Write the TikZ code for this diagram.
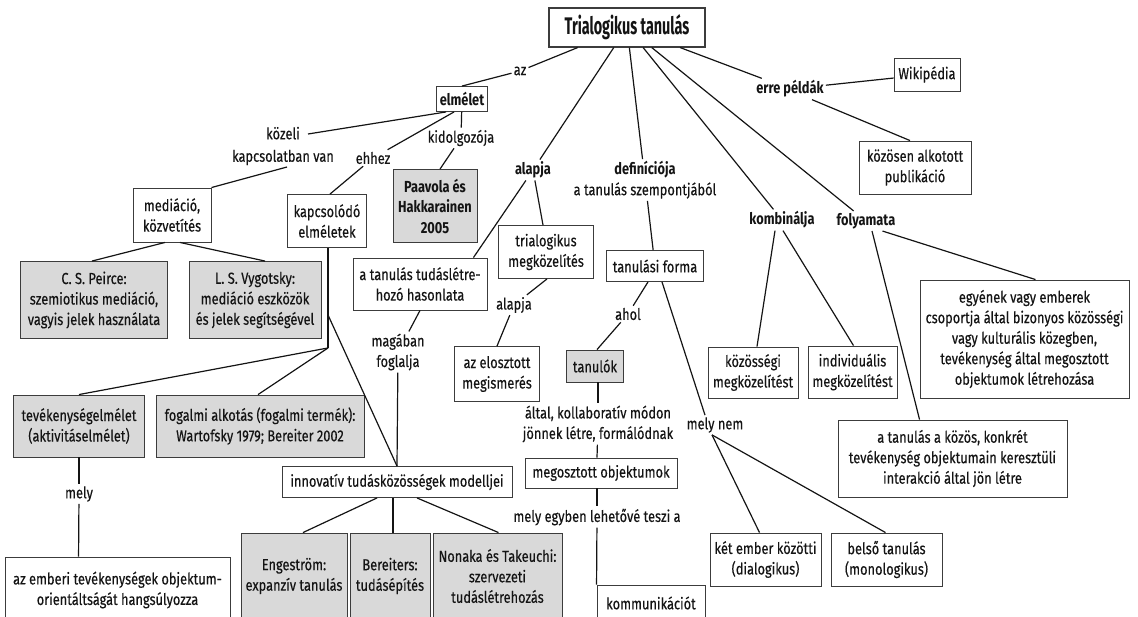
\documentclass[tikz,border=0pt]{standalone}
\usepackage{fontspec}
\setmainfont{Fira Sans}[FakeStretch=0.8, UprightFeatures={FakeBold=0.3}]
\newfontfamily\headfont{Fira Sans}[FakeStretch=0.6]
\usetikzlibrary{calc}
\definecolor{boxgray}{HTML}{D9D9D9}
\definecolor{ink}{HTML}{141414}
\definecolor{edge}{HTML}{3C3C3C}

\begin{document}
\begin{tikzpicture}[x=1pt,y=-1pt,
  txt/.style={font=\fontsize{16}{20.5}\selectfont, text=ink, align=center},
  bf/.style={font=\bfseries\fontsize{16}{20.5}\selectfont},
  box/.style={txt, draw=edge, line width=0.9pt, fill=white, inner sep=0pt},
  gbox/.style={box, fill=boxgray},
  lbl/.style={txt, inner sep=2pt},
  sz/.style 2 args={minimum width=#1, minimum height=#2},
  conn/.style={draw=ink, line width=1.2pt}]
\useasboundingbox (0,0) rectangle (1138,616);

% ---- root and the theory branch ----
\node[box, sz={156}{39}, line width=1.1pt, font=\headfont\bfseries\fontsize{24}{26}\selectfont] (title) at (627,27.5) {Trialogikus tanulás};
\node[lbl] (az) at (520,71) {az};
\node[box, sz={51}{25}, bf] (elmelet) at (462,99) {elmélet};
\node[lbl] (kozeli) at (283,146) {közeli\\[2pt]kapcsolatban van};
\node[lbl] (ehhez) at (373,158) {ehhez};
\node[lbl] (kidolg) at (461,138) {kidolgozója};
\node[gbox, sz={84}{73}, bf] (paavola) at (435,206) {Paavola és\\Hakkarainen\\2005};
\node[box, sz={79}{53}] (kapcs) at (327,221) {kapcsolódó\\elméletek};
\node[box, sz={78}{54}] (media) at (172,215) {mediáció,\\közvetítés};
\node[gbox, sz={147}{77}] (peirce) at (94,300) {C. S. Peirce:\\szemiotikus mediáció,\\vagyis jelek használata};
\node[gbox, sz={132}{77}] (vygot) at (255,300) {L. S. Vygotsky:\\mediáció eszközök\\és jelek segítségével};
\node[gbox, sz={131}{62}] (tevek) at (79,426) {tevékenységelmélet\\(aktivitáselmélet)};
\node[gbox, sz={208}{62}] (fogalmi) at (260,426) {fogalmi alkotás (fogalmi termék):\\Wartofsky 1979; Bereiter 2002};
\node[lbl] (mely1) at (79,494) {mely};
\node[box, sz={225}{66}] (emberi) at (117.5,590) {az emberi tevékenységek objektum-\\orientáltságát hangsúlyozza};

% ---- basis branch ----
\node[lbl, bf] (alapja1) at (533,170) {alapja};
\node[box, sz={134}{52}] (hasonlat) at (420,284) {a tanulás tudáslétre-\\hozó hasonlata};
\node[lbl] (magaban) at (398,352) {magában\\foglalja};
\node[box, sz={230}{31}] (innov) at (397,482) {innovatív tudásközösségek modelljei};
\node[gbox, sz={106}{86}] (engest) at (294,576) {Engeström:\\expanzív tanulás};
\node[gbox, sz={80}{86}] (bereit) at (390,576) {Bereiters:\\tudásépítés};
\node[gbox, sz={129}{86}] (nonaka) at (497.5,576) {Nonaka és Takeuchi:\\szervezeti\\tudáslétrehozás};
\node[box, sz={95}{53}] (trial) at (546,252) {trialogikus\\megközelítés};
\node[lbl] (alapja2) at (514,305) {alapja};
\node[box, sz={85}{55}] (eloszt) at (497,374) {az elosztott\\megismerés};

% ---- definition branch ----
\node[lbl] (defin) at (645,180) {\textbf{definíciója}\\a tanulás szempontjából};
\node[box, sz={97}{31}] (forma) at (655,266) {tanulási forma};
\node[lbl] (ahol) at (628,314) {ahol};
\node[gbox, sz={57}{32}] (tanulok) at (595,366) {tanulók};
\node[lbl] (altal) at (598,424) {által, kollaboratív módon\\jönnek létre, formálódnak};
\node[box, sz={152}{30}] (megoszt) at (601,473) {megosztott objektumok};
\node[lbl] (melyegy) at (597,517) {mely egyben lehetővé teszi a};
\node[box, sz={108}{36}] (komm) at (651,603) {kommunikációt};
\node[lbl] (melynem) at (715,425) {mely nem};
\node[box, sz={111}{53}] (ketember) at (765.5,559.5) {két ember közötti\\(dialogikus)};
\node[box, sz={111}{53}] (belso) at (886.5,559.5) {belső tanulás\\(monologikus)};

% ---- right-hand branches ----
\node[lbl, bf] (kombin) at (782,220) {kombinálja};
\node[lbl, bf] (folyam) at (866,221) {folyamata};
\node[lbl, bf] (erre) at (790,89) {erre példák};
\node[box, sz={66}{33}] (wiki) at (927,74.5) {Wikipédia};
\node[box, sz={112}{53}] (kozosen) at (915,167.5) {közösen alkotott\\publikáció};
\node[box, sz={90}{51}] (kozossegi) at (753,372.5) {közösségi\\megközelítést};
\node[box, sz={89}{52}] (indiv) at (852.5,372) {individuális\\megközelítést};
\node[box, sz={209}{118}] (egyenek) at (1024.5,339) {egyének vagy emberek\\csoportja által bizonyos közösségi\\vagy kulturális közegben,\\tevékenység által megosztott\\objektumok létrehozása};
\node[box, sz={229}{77}] (kozos) at (952.5,458.5) {a tanulás a közös, konkrét\\tevékenység objektumain keresztüli\\interakció által jön létre};

% branch points on the line below "kapcsolódó elméletek"
\coordinate (kc) at ($(kapcs.south)+(1,67)$);
\coordinate (kb) at ($(kapcs.south)+(1,100)$);

% ---- connectors ----
\begin{scope}[every path/.style={conn}]
\draw (title) -- (az);
\draw (az) -- (elmelet.north);
\draw ($(elmelet.south west)+(10,0)$) -- ($(kozeli.center)+(25,-12)$);
\draw ($(elmelet.south)+(-8,0)$) -- (ehhez);
\draw (ehhez) -- ($(kapcs.north)+(3,0)$);
\draw (elmelet) -- (kidolg);
\draw (kidolg) -- ($(paavola.north)+(5,0)$);
\draw ($(kozeli.center)+(4,21)$) -- (media.north east);
\draw ($(media.south)+(-7,0)$) -- ($(peirce.north)+(-2,0)$);
\draw ($(media.south)+(8,0)$) -- ($(vygot.north)+(10,0)$);
\draw ($(kapcs.south)+(1,0)$) -- (kb);
\draw (kb) -- (tevek.north);
\draw (kb) -- ($(fogalmi.north)+(-2,0)$);
\draw (kc) -- (innov.north);
\draw (tevek) -- (mely1);
\draw (mely1) -- ($(emberi.north west)+(74,0)$);

\draw (title) -- (alapja1);
\draw (alapja1) -- ($(hasonlat.north east)+(-14,0)$);
\draw (alapja1) -- ($(trial.north)+(-3,0)$);
\draw (hasonlat.south) -- (magaban);
\draw (magaban) -- (innov.north);
\draw ($(innov.south)+(-20,0)$) -- ($(engest.north)+(9,0)$);
\draw ($(innov.south)+(-4,0)$) -- ($(bereit.north)+(3,0)$);
\draw ($(innov.south)+(20,0)$) -- ($(nonaka.north)+(1,0)$);
\draw ($(trial.south)+(1,0)$) -- (alapja2);
\draw (alapja2) -- (eloszt.north);

\draw (title) -- (defin);
\draw (defin) -- (forma);
\draw ($(forma.south)+(-7,0)$) -- (ahol);
\draw (ahol) -- ($(tanulok.north)+(2,0)$);
\draw ($(tanulok.south)+(3,0)$) -- (altal);
\draw (altal) -- ($(megoszt.north)+(-4,0)$);
\draw ($(megoszt.south)+(-4,0)$) -- (melyegy);
\draw (melyegy) -- (komm.north west);
\draw ($(forma.south)+(7,0)$) -- ($(melynem.north)+(-10,0)$);
\draw ($(melynem.south)+(-3,0)$) -- ($(ketember.north)+(-6,0)$);
\draw ($(melynem.south)+(-3,0)$) -- ($(belso.north)+(-1,0)$);

\draw (title) -- (kombin);
\draw ($(kombin.south)+(-7,0)$) -- ($(kozossegi.north)+(4,0)$);
\draw ($(kombin.south)+(1,0)$) -- ($(indiv.north)+(1,0)$);
\draw (title) -- (folyam);
\draw ($(folyam.south east)+(-15,0)$) -- ($(egyenek.north)+(11,0)$);
\draw ($(folyam.south)+(6,0)$) -- ($(kozos.north west)+(82,0)$);
\draw (title) -- (erre);
\draw (erre) -- (wiki);
\draw ($(erre.south)+(22,0)$) -- ($(kozosen.north)+(-5,0)$);
\end{scope}
\end{tikzpicture}
\end{document}
